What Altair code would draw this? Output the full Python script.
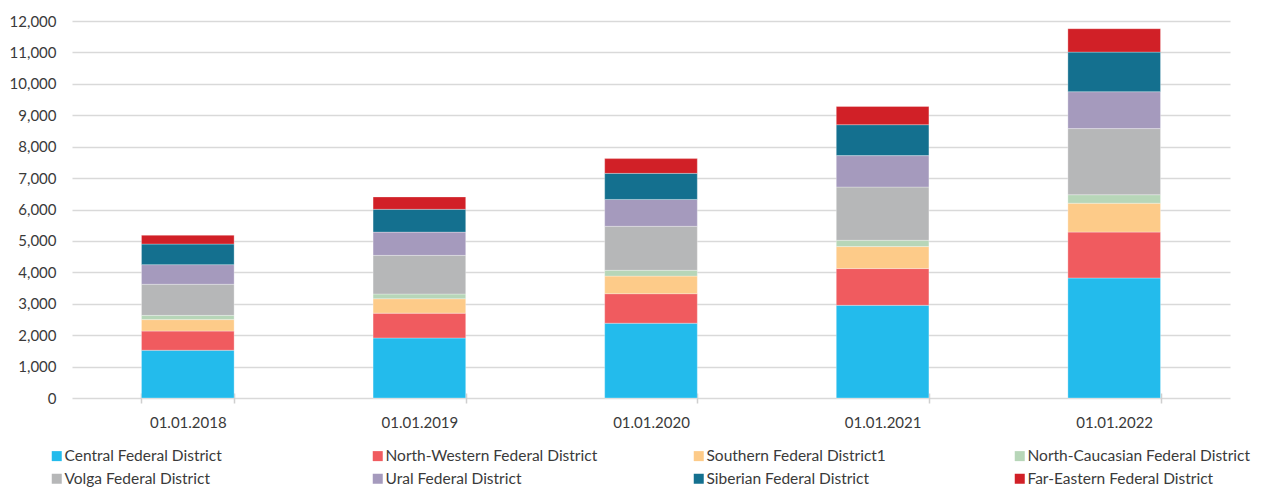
import altair as alt
import pandas as pd

dates = ["01.01.2018", "01.01.2019", "01.01.2020", "01.01.2021", "01.01.2022"]
districts = [
    "Central Federal District",
    "North-Western Federal District",
    "Southern Federal District1",
    "North-Caucasian Federal District",
    "Volga Federal District",
    "Ural Federal District",
    "Siberian Federal District",
    "Far-Eastern Federal District",
]
colors = ["#23BBEC", "#F05B5F", "#FDCB89", "#B7D6B8", "#B6B7B8", "#A59ABD", "#14708F", "#D12027"]

central = [1520, 1910, 2380, 2950, 3820]
north_western = [610, 790, 940, 1170, 1460]
southern = [365, 460, 560, 700, 920]
north_caucasian = [135, 150, 185, 200, 270]
volga = [990, 1230, 1400, 1695, 2105]
ural = [625, 740, 855, 1000, 1175]
siberian = [655, 725, 830, 985, 1260]
far_eastern = [280, 395, 470, 580, 745]

series = [central, north_western, southern, north_caucasian, volga, ural, siberian, far_eastern]
y_ticks = list(range(0, 12001, 1000))

# legend is filled column by column (2 rows x 4 columns)
legend_order = [districts[i] for i in (0, 4, 1, 5, 2, 6, 3, 7)]
legend_colors = [colors[i] for i in (0, 4, 1, 5, 2, 6, 3, 7)]

rows = []
for i, (name, vals) in enumerate(zip(districts, series)):
    for d, v in zip(dates, vals):
        rows.append({"date": d, "district": name, "value": v, "idx": i})
df = pd.DataFrame(rows)

FONT = "Lato"
TXT = "#3a3a3a"

chart = alt.Chart(df).mark_bar(stroke="white", strokeWidth=0.6, strokeOpacity=0.5).encode(
    x=alt.X("date:N", sort=dates, title=None,
            scale=alt.Scale(paddingInner=0.6, paddingOuter=0.3),
            axis=alt.Axis(labelAngle=0, domain=False, tickBand="extent", tickColor="#cfcfcf",
                          tickWidth=1.5, tickSize=10, offset=-5, labelPadding=12,
                          labelFontSize=15, labelColor=TXT, labelFont=FONT)),
    y=alt.Y("value:Q", stack="zero", title=None,
            scale=alt.Scale(domain=[0, 12000], nice=False),
            axis=alt.Axis(values=y_ticks, format=",d", domain=False, ticks=False, grid=True,
                          gridColor="#d9d9d9", gridWidth=1.5, labelPadding=16,
                          labelFontSize=15, labelColor=TXT, labelFont=FONT)),
    color=alt.Color("district:N", sort=legend_order,
                    scale=alt.Scale(domain=legend_order, range=legend_colors),
                    legend=alt.Legend(title=None, orient="none", legendX=-23, legendY=427,
                                      columns=4, gridAlign="all", columnPadding=83, rowPadding=6,
                                      symbolType="square", symbolSize=100, symbolStrokeWidth=0,
                                      labelFontSize=15.5, labelColor=TXT, labelFont=FONT,
                                      labelOffset=0, labelLimit=400)),
    order=alt.Order("idx:Q", sort="ascending"),
).properties(
    width=1158, height=377,
    autosize=alt.AutoSizeParams(type="none"),
    padding={"left": 64, "top": 13, "right": 23, "bottom": 89},
).configure_view(stroke=None)

chart.save("out.html", embed_options={"renderer": "svg", "actions": False})
